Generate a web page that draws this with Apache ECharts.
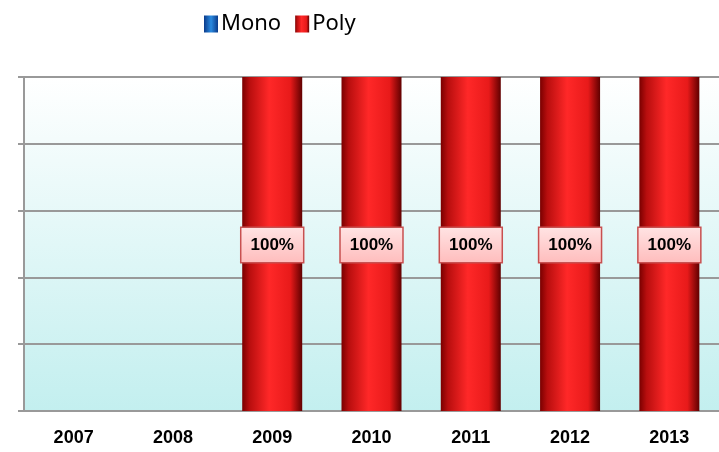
<!DOCTYPE html>
<html>
<head>
<meta charset="utf-8">
<script src="https://cdn.jsdelivr.net/npm/echarts@6/dist/echarts.min.js"></script>
<style>
  html, body { margin: 0; padding: 0; background: #fff; }
  #chart { width: 719px; height: 452px; }
</style>
</head>
<body>
<div id="chart"></div>
<script>
// Mono / Poly share per year
const years = ['2007', '2008', '2009', '2010', '2011', '2012', '2013'];
const mono = [null, null, 0, 0, 0, 0, 0];
const poly = [null, null, 100, 100, 100, 100, 100];

const chart = echarts.init(document.getElementById('chart'));

const redBar = new echarts.graphic.LinearGradient(0, 0, 1, 0, [
    { offset: 0, color: '#7a0000' },
    { offset: 0.12, color: '#b80e0e' },
    { offset: 0.45, color: '#ff2828' },
    { offset: 0.8, color: '#e81a1a' },
    { offset: 1, color: '#600000' }
]);
const blueBar = new echarts.graphic.LinearGradient(0, 0, 1, 0, [
    { offset: 0, color: '#0a3a8a' },
    { offset: 0.5, color: '#2a8ae0' },
    { offset: 1, color: '#0a3a8a' }
]);

const option = {
    animation: false,
    legend: {
        left: 199,
        top: 8,
        itemWidth: 14,
        itemHeight: 17,
        itemGap: 14,
        icon: 'rect',
        textStyle: { fontFamily: 'Noto Sans', fontSize: 22, color: '#000', padding: [0, 0, 0, -2] },
        data: ['Mono', 'Poly']
    },
    grid: {
        left: 24,
        top: 77,
        width: 697,
        height: 334,
        show: true,
        borderWidth: 0,
        backgroundColor: new echarts.graphic.LinearGradient(0, 0, 0, 1, [
            { offset: 0, color: '#ffffff' },
            { offset: 1, color: '#c3efef' }
        ])
    },
    xAxis: {
        type: 'category',
        data: years,
        axisLine: { lineStyle: { color: '#999', width: 2 } },
        axisTick: { length: 6, lineStyle: { color: '#999', width: 2 } },
        axisLabel: { margin: 18, fontFamily: 'Liberation Sans', fontWeight: 'bold', fontSize: 18, color: '#000' }
    },
    yAxis: {
        type: 'value',
        min: 0,
        max: 100,
        interval: 20,
        axisLabel: { show: false },
        axisLine: { show: true, lineStyle: { color: '#999', width: 2 } },
        axisTick: { show: true, length: 6, lineStyle: { color: '#999', width: 2 } },
        splitLine: { lineStyle: { color: '#999', width: 2 } }
    },
    series: [
        {
            name: 'Mono',
            type: 'bar',
            stack: 'share',
            barWidth: 60,
            data: mono,
            itemStyle: { color: blueBar }
        },
        {
            name: 'Poly',
            type: 'bar',
            stack: 'share',
            barWidth: 60,
            data: poly,
            itemStyle: { color: redBar },
            label: {
                show: true,
                position: 'inside',
                offset: [0, 1],
                formatter: '{c}%',
                fontFamily: 'Liberation Sans',
                fontWeight: 'bold',
                fontSize: 17,
                color: '#000',
                padding: [9, 9, 8, 9],
                borderWidth: 1.5,
                borderColor: '#c85050',
                backgroundColor: new echarts.graphic.LinearGradient(0, 0, 0, 1, [
                    { offset: 0, color: '#ffe4e4' },
                    { offset: 1, color: '#ffbcbc' }
                ])
            }
        }
    ]
};

chart.setOption(option);
</script>
</body>
</html>
